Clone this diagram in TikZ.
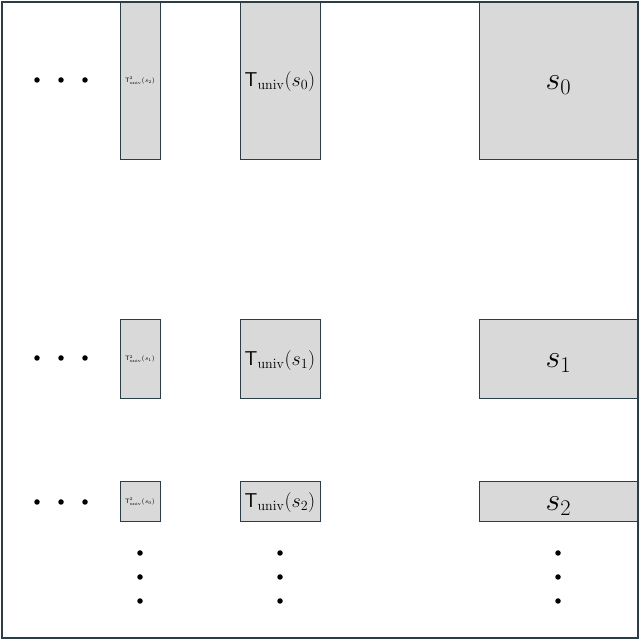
\RequirePackage{fix-cm}
\documentclass[tikz,border=0pt]{standalone}
\usepackage{amsmath}
\newcommand{\bigs}[1]{\raisebox{0pt}[\dimexpr\height+10pt\relax][\depth]{\fontsize{32}{34}\selectfont $s_{#1}$}}
\newcommand{\midt}[1]{\raisebox{0pt}[\dimexpr\height+4pt\relax][\depth]{\fontsize{20}{22}\selectfont $\mathsf{T}_{\mathrm{univ}}(s_{#1})$}}
\newcommand{\smallt}[1]{\raisebox{0pt}[\dimexpr\height+1pt\relax][\depth]{\fontsize{6.3}{7}\selectfont $\mathsf{T}^2_{\mathrm{univ}}(s_{#1})$}}
\begin{document}
\begin{tikzpicture}[x=1pt,y=1pt,
  cell/.style={draw=frame, line width=0.8pt, fill=gray!30, inner sep=0pt},
  dotm/.style={circle, fill=black, inner sep=0pt, minimum size=5.5pt}]
\definecolor{frame}{HTML}{2A3E48}
\useasboundingbox (0,0) rectangle (640,640);
% right column
\node[cell, minimum width=159pt, minimum height=158pt] (s0) at (558.5,560) {\bigs{0}};
\node[cell, minimum width=159pt, minimum height=79pt] (s1) at (558.5,281.5) {\bigs{1}};
\node[cell, minimum width=159pt, minimum height=40pt] (s2) at (558.5,139) {\bigs{2}};
% middle column
\node[cell, minimum width=80pt, minimum height=158pt] (t0) at (280,560) {\midt{0}};
\node[cell, minimum width=80pt, minimum height=79pt] (t1) at (280,281.5) {\midt{1}};
\node[cell, minimum width=80pt, minimum height=40pt] (t2) at (280,139) {\midt{2}};
% left column
\node[cell, minimum width=40pt, minimum height=158pt] (u0) at (140,560) {\smallt{2}};
\node[cell, minimum width=40pt, minimum height=79pt] (u1) at (140,281.5) {\smallt{1}};
\node[cell, minimum width=40pt, minimum height=40pt] (u2) at (140,139) {\smallt{0}};
% horizontal dots
\foreach \r/\y in {0/560,1/282,2/138}{
  \foreach \i/\x in {a/37,b/61,c/85}{
    \node[dotm] (h\r\i) at (\x,\y) {};
  }
}
% vertical dots
\foreach \c/\x in {u/140,t/280,s/558}{
  \foreach \i/\y in {a/87,b/63,c/39}{
    \node[dotm] (v\c\i) at (\x,\y) {};
  }
}
% frame
\draw[frame, line width=2.5pt] (2,2) rectangle (638,638);
\end{tikzpicture}
\end{document}
